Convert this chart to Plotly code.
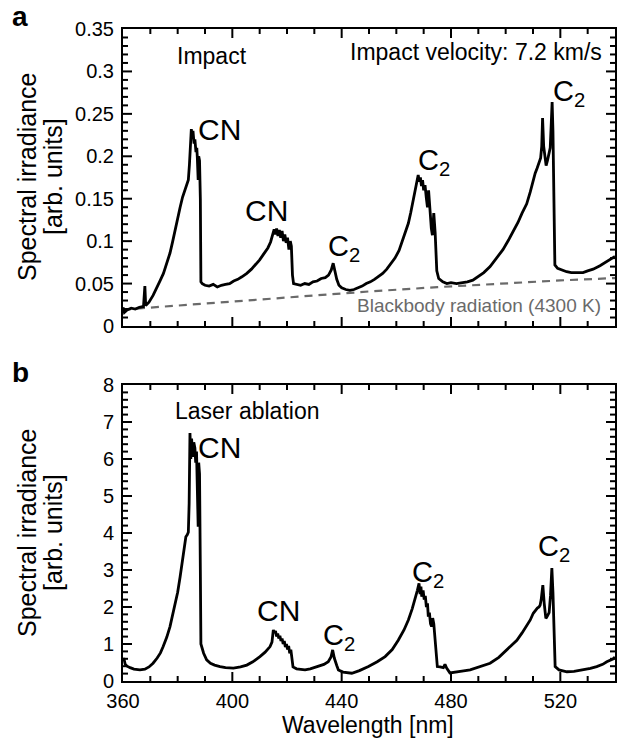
import plotly.graph_objects as go

# ---------------- data ----------------
impact_wl = [360.0, 360.5, 361.5, 363, 364.5, 366, 367.5, 368.0, 368.3, 369.5, 371, 372.3, 373.5, 374.8,
             376, 377.2, 378.2, 379, 380, 380.9, 381.8, 382.7, 383.4, 383.9, 384.3, 384.6, 385.0, 385.3,
             385.6, 386.0, 386.3, 386.7, 387.0, 387.2, 387.5, 387.7, 388.0, 388.3, 388.5, 389, 390, 391.5,
             393, 394.5, 396, 397.5, 399, 400.5, 402, 403.5, 405.3, 407, 408.5, 410, 411.5, 413, 414,
             414.8, 415.3, 415.8, 416.2, 416.7, 417.2, 417.7, 418.2, 418.7, 419.2, 419.7, 420.2, 420.7,
             421.2, 421.6, 422.0, 422.4, 423.5, 425, 426.5, 428, 429.5, 431, 432.5, 434, 435.2, 436.2,
             436.9, 437.4, 438.2, 439.0, 440, 441.5, 443, 444.5, 446, 447.5, 449, 450.5, 452, 453.5, 455,
             456.5, 458, 459.5, 461, 462, 463.2, 464.4, 465.3, 466.2, 467.0, 467.6, 468.0, 468.4, 468.8,
             469.2, 469.6, 470.0, 470.5, 471.0, 471.4, 471.8, 472.3, 472.8, 473.2, 473.7, 474.2, 474.8,
             475.5, 477, 478.5, 480, 482, 484, 486, 488, 490, 492, 494.3, 496.5, 499, 501, 503, 504.5,
             506, 507.7, 509, 510.1, 510.8, 511.5, 512.2, 512.8, 513.2, 513.5, 513.9, 514.4, 514.8,
             515.3, 515.8, 516.3, 516.7, 517.0, 517.3, 517.6, 518.0, 519, 520.5, 522.3, 524, 526, 528.3,
             530, 532, 534.5, 536, 537.5, 539, 540]
impact_val = [0.022, 0.016, 0.019, 0.021, 0.020, 0.022, 0.023, 0.047, 0.024, 0.028, 0.036, 0.046, 0.053,
              0.062, 0.074, 0.086, 0.100, 0.113, 0.127, 0.140, 0.152, 0.160, 0.168, 0.172, 0.190, 0.210,
              0.232, 0.224, 0.230, 0.215, 0.220, 0.205, 0.210, 0.198, 0.172, 0.200, 0.195, 0.150, 0.052,
              0.050, 0.048, 0.047, 0.049, 0.046, 0.048, 0.049, 0.050, 0.053, 0.055, 0.058, 0.062, 0.067,
              0.072, 0.078, 0.085, 0.092, 0.099, 0.110, 0.114, 0.108, 0.115, 0.106, 0.113, 0.104, 0.112,
              0.100, 0.108, 0.098, 0.104, 0.090, 0.100, 0.094, 0.060, 0.050, 0.049, 0.048, 0.050, 0.049,
              0.052, 0.053, 0.056, 0.057, 0.060, 0.066, 0.074, 0.066, 0.055, 0.048, 0.045, 0.043, 0.042,
              0.043, 0.045, 0.047, 0.050, 0.052, 0.055, 0.058, 0.062, 0.067, 0.073, 0.080, 0.089, 0.098,
              0.108, 0.121, 0.134, 0.148, 0.160, 0.170, 0.178, 0.170, 0.175, 0.165, 0.172, 0.160, 0.166,
              0.150, 0.140, 0.160, 0.130, 0.115, 0.107, 0.133, 0.110, 0.065, 0.056, 0.052, 0.050, 0.051,
              0.050, 0.051, 0.052, 0.054, 0.058, 0.063, 0.070, 0.079, 0.090, 0.101, 0.113, 0.122, 0.133,
              0.144, 0.158, 0.172, 0.180, 0.186, 0.194, 0.198, 0.212, 0.245, 0.212, 0.194, 0.189, 0.195,
              0.203, 0.210, 0.240, 0.264, 0.230, 0.150, 0.072, 0.068, 0.066, 0.064, 0.063, 0.063, 0.063,
              0.065, 0.067, 0.071, 0.074, 0.077, 0.080, 0.082]

blackbody_wl = [360, 380, 400, 425, 450, 475, 500, 520, 540]
blackbody_val = [0.0193, 0.0242, 0.0290, 0.0350, 0.0407, 0.0458, 0.0505, 0.0537, 0.0565]

laser_wl = [360.0, 360.3, 360.8, 361.5, 362.6, 364, 366.2, 368, 369.5, 371, 372.5, 373.7, 374.7, 376,
            377.2, 378, 379, 380, 380.9, 381.5, 382, 382.6, 383, 383.5, 383.9, 384.2, 384.5, 384.8,
            385.1, 385.5, 385.9, 386.3, 386.6, 386.9, 387.2, 387.5, 387.7, 388.0, 388.3, 388.5, 389.5,
            390.6, 392, 393.5, 395.5, 397.5, 400.4, 403, 405.3, 407.5, 410.1, 412, 413.8, 414.5, 415.0,
            415.4, 415.8, 416.2, 416.6, 417.0, 417.4, 417.8, 418.2, 418.6, 419.0, 419.4, 419.8, 420.2,
            420.6, 421.0, 421.4, 421.8, 422.2, 423.5, 425, 426.6, 428.5, 431.5, 433.5, 435.1, 436.1,
            436.7, 437.3, 438.2, 438.8, 440.5, 443.7, 446.5, 449.8, 453, 455.9, 458.5, 460.7, 462.8,
            464.4, 465.8, 466.8, 467.7, 468.3, 468.7, 469.0, 469.3, 469.8, 470.2, 470.6, 471.0, 471.4,
            471.7, 472.1, 472.5, 472.9, 473.3, 473.7, 474.1, 474.5, 475.0, 476, 477.2, 477.8, 478.4,
            479.6, 481.5, 484, 487, 490.5, 494.3, 497.5, 500.4, 502.3, 504.1, 506, 507.7, 509, 510.1,
            510.8, 511.6, 512.2, 512.6, 513.0, 513.6, 514.1, 514.7, 515.2, 515.9, 516.4, 516.9, 517.3,
            517.7, 518.1, 519.5, 522.4, 525, 528.4, 531, 533.3, 535.5, 537, 538.5, 539.4, 540]
laser_val = [0.55, 0.62, 0.45, 0.40, 0.36, 0.32, 0.30, 0.32, 0.38, 0.48, 0.62, 0.76, 0.93, 1.18, 1.47,
             1.72, 2.00, 2.40, 2.82, 3.15, 3.45, 3.75, 3.90, 3.95, 4.02, 4.80, 6.70, 6.00, 6.55, 6.06,
             6.45, 6.30, 5.90, 6.20, 5.43, 4.17, 5.90, 5.60, 3.00, 1.00, 0.75, 0.57, 0.48, 0.43, 0.39,
             0.36, 0.35, 0.38, 0.43, 0.52, 0.66, 0.78, 0.93, 1.05, 1.38, 1.30, 1.35, 1.20, 1.28, 1.15,
             1.22, 1.08, 1.15, 1.00, 1.08, 0.92, 1.00, 0.85, 0.95, 0.75, 0.85, 0.65, 0.38, 0.33, 0.32,
             0.30, 0.33, 0.39, 0.45, 0.52, 0.65, 0.84, 0.62, 0.42, 0.30, 0.24, 0.21, 0.28, 0.39, 0.52,
             0.66, 0.85, 1.10, 1.38, 1.65, 1.95, 2.19, 2.45, 2.64, 2.35, 2.55, 2.28, 2.45, 2.20, 2.30,
             2.00, 2.10, 1.74, 1.85, 1.55, 1.47, 1.70, 1.55, 1.20, 0.84, 0.39, 0.38, 0.36, 0.45, 0.35,
             0.22, 0.25, 0.27, 0.30, 0.38, 0.48, 0.64, 0.84, 0.96, 1.10, 1.30, 1.51, 1.65, 1.83, 1.90,
             1.97, 2.00, 2.05, 2.20, 2.59, 2.10, 1.69, 1.75, 1.85, 2.30, 3.05, 2.40, 1.20, 0.39, 0.30,
             0.25, 0.26, 0.30, 0.34, 0.39, 0.45, 0.52, 0.58, 0.60, 0.65]

x_range = [360, 540]
impact_range = [0, 0.35]
laser_range = [0, 8]

# ---------------- layout helpers ----------------
W, H = 618, 738
def px(x):
    return x / W
def py(y):
    return 1 - y / H

FONT = "Liberation Sans, Arial, sans-serif"
PLOT_L, PLOT_R = 123, 615
TOP_T, TOP_B = 29, 326
BOT_T, BOT_B = 385, 681
XDOM = [px(PLOT_L), px(PLOT_R)]
TOP_DOM = [py(TOP_B), py(TOP_T)]
BOT_DOM = [py(BOT_B), py(BOT_T)]

fig = go.Figure()
fig.add_trace(go.Scatter(x=blackbody_wl, y=blackbody_val, mode="lines", xaxis="x", yaxis="y",
                         line=dict(color="#6a6a6a", width=2.2, dash="8px,6px"), showlegend=False,
                         hoverinfo="skip"))
fig.add_trace(go.Scatter(x=impact_wl, y=impact_val, mode="lines", xaxis="x", yaxis="y",
                         line=dict(color="black", width=2.8), showlegend=False))
fig.add_trace(go.Scatter(x=laser_wl, y=laser_val, mode="lines", xaxis="x2", yaxis="y2",
                         line=dict(color="black", width=2.8), showlegend=False))

# ---- inward tick marks on all four frame sides, drawn as line segments on the axes' scales ----
MAJ, MIN = 9, 5          # tick lengths in px
def tick_trace(xname, yname, yrng, ystep_minor, ymajor_every, xstep_minor, xmajor_every,
               height_px):
    width_px = PLOT_R - PLOT_L
    x_per_px = (x_range[1] - x_range[0]) / width_px
    y_per_px = (yrng[1] - yrng[0]) / height_px
    xs, ys = [], []
    n = int(round((yrng[1] - yrng[0]) / ystep_minor))
    for i in range(1, n):
        v = yrng[0] + i * ystep_minor
        L = (MAJ if i % ymajor_every == 0 else MIN) * x_per_px
        xs += [x_range[0], x_range[0] + L, None, x_range[1] - L, x_range[1], None]
        ys += [v, v, None, v, v, None]
    n = int(round((x_range[1] - x_range[0]) / xstep_minor))
    for i in range(1, n):
        v = x_range[0] + i * xstep_minor
        L = (MAJ if i % xmajor_every == 0 else MIN) * y_per_px
        xs += [v, v, None, v, v, None]
        ys += [yrng[0], yrng[0] + L, None, yrng[1] - L, yrng[1], None]
    return go.Scatter(x=xs, y=ys, mode="lines", xaxis=xname, yaxis=yname,
                      line=dict(color="black", width=2), showlegend=False, hoverinfo="skip",
                      connectgaps=False)

fig.add_trace(tick_trace("x", "y", impact_range, 0.01, 5, 10, 4, TOP_B - TOP_T))
fig.add_trace(tick_trace("x2", "y2", laser_range, 0.2, 5, 10, 4, BOT_B - BOT_T))

tickfont = dict(family=FONT, size=20, color="black")
main_common = dict(showline=True, linecolor="black", linewidth=2, mirror=True, showgrid=False,
                   zeroline=False, ticks="", tickfont=tickfont)
fig.update_layout(
    template="none",
    width=W, height=H, margin=dict(l=0, r=0, t=0, b=0),
    paper_bgcolor="white", plot_bgcolor="white",
    font=dict(family=FONT, color="black"), showlegend=False,
    xaxis=dict(main_common, anchor="y", domain=XDOM, range=x_range, showticklabels=False),
    yaxis=dict(main_common, anchor="x", domain=TOP_DOM, range=impact_range, tickmode="linear",
               tick0=0, dtick=0.05, ticklabelstandoff=3),
    xaxis2=dict(main_common, anchor="y2", domain=XDOM, range=x_range, tickmode="linear",
                tick0=360, dtick=40, ticklabelstandoff=1),
    yaxis2=dict(main_common, anchor="x2", domain=BOT_DOM, range=laser_range, tickmode="linear",
                tick0=0, dtick=1, ticklabelstandoff=3),
)

def ann(text, x, y, size, xanchor="left", yanchor="middle", color="black", angle=0, bold=False):
    t = f"<b>{text}</b>" if bold else text
    fig.add_annotation(text=t, x=px(x), y=py(y), xref="paper", yref="paper", showarrow=False,
                       xanchor=xanchor, yanchor=yanchor, textangle=angle,
                       font=dict(family=FONT, size=size, color=color))

# panel letters
ann("a", 10, 16, 28, bold=True)
ann("b", 10, 372, 28, bold=True)

# y-axis titles
for yc in (177, 533):
    ann("Spectral irradiance", 27, yc, 25, xanchor="center", angle=-90)
    ann("[arb. units]", 53, yc, 25, xanchor="center", angle=-90)
# x-axis title
ann("Wavelength [nm]", 368, 725, 23, xanchor="center")

# panel a texts
ann("Impact", 175, 56, 23)
ann("Impact velocity: 7.2 km/s", 604, 52, 23, xanchor="right")
ann("Blackbody radiation (4300 K)", 603, 306, 19, xanchor="right", color="#6a6a6a")
ann("CN", 196, 130, 30)
ann("CN", 243, 210, 30)
ann("C<sub>2</sub>", 326, 248, 29)
ann("C<sub>2</sub>", 416, 162, 29)
ann("C<sub>2</sub>", 551, 93, 29)

# panel b texts
ann("Laser ablation", 173, 411, 23)
ann("CN", 196, 447, 30)
ann("CN", 255, 610, 30)
ann("C<sub>2</sub>", 321, 637, 29)
ann("C<sub>2</sub>", 410, 574, 29)
ann("C<sub>2</sub>", 536, 548, 29)

fig.write_html("out.html")
